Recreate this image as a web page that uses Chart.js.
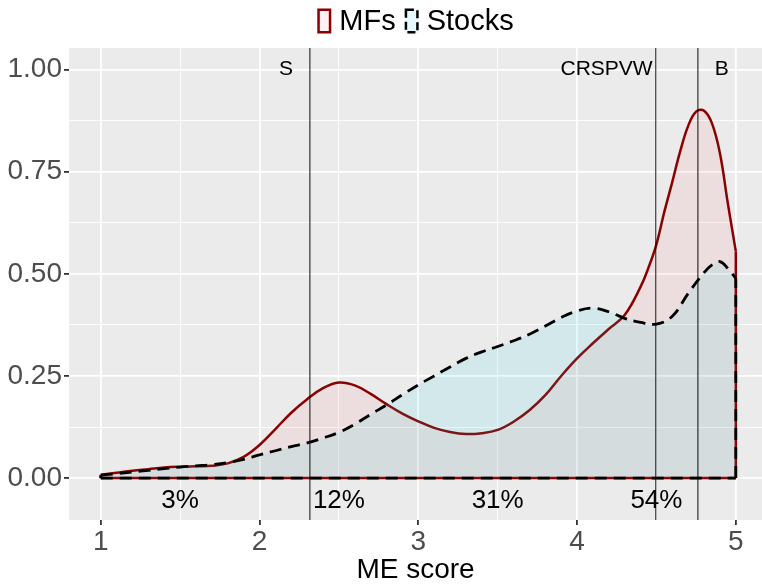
<!DOCTYPE html>
<html>
<head>
<meta charset="utf-8">
<script src="https://cdn.jsdelivr.net/npm/chart.js@4.4.0/dist/chart.umd.min.js"></script>
<style>
  html, body { margin: 0; padding: 0; background: #ffffff; overflow: hidden; }
  canvas { display: block; }
</style>
</head>
<body>
<canvas id="chart" width="762" height="587"></canvas>
<script>
// density of ME score, mutual funds
const mfX = [1.0, 1.1, 1.2, 1.3, 1.4, 1.5, 1.6, 1.7, 1.8, 1.9, 2.0, 2.1, 2.2, 2.3, 2.4, 2.5, 2.6, 2.7, 2.8, 2.9,
  3.0, 3.1, 3.2, 3.3, 3.4, 3.5, 3.6, 3.7, 3.8, 3.9, 4.0, 4.1, 4.2, 4.3, 4.4, 4.45, 4.5, 4.55, 4.6, 4.65,
  4.7, 4.75, 4.8, 4.85, 4.9, 4.95, 5.0];
const mfY = [0.008, 0.013, 0.018, 0.022, 0.026, 0.028, 0.029, 0.030, 0.036, 0.052, 0.081, 0.120, 0.160, 0.193, 0.220, 0.234, 0.227, 0.206, 0.181, 0.158,
  0.139, 0.123, 0.113, 0.108, 0.110, 0.118, 0.138, 0.166, 0.203, 0.250, 0.293, 0.330, 0.365, 0.399, 0.468, 0.515, 0.572, 0.652, 0.725, 0.800,
  0.862, 0.897, 0.899, 0.868, 0.795, 0.672, 0.555];

// density of ME score, stocks
const stX = [1.0, 1.1, 1.2, 1.3, 1.4, 1.5, 1.6, 1.7, 1.8, 1.9, 2.0, 2.1, 2.2, 2.3, 2.4, 2.5, 2.6, 2.7, 2.8, 2.9,
  3.0, 3.1, 3.2, 3.3, 3.4, 3.5, 3.6, 3.7, 3.8, 3.9, 4.0, 4.1, 4.2, 4.3, 4.4, 4.5, 4.6, 4.7, 4.8, 4.85,
  4.9, 4.95, 5.0];
const stY = [0.007, 0.011, 0.015, 0.019, 0.023, 0.027, 0.030, 0.033, 0.038, 0.046, 0.057, 0.067, 0.077, 0.086, 0.098, 0.112, 0.132, 0.156, 0.179, 0.204,
  0.228, 0.250, 0.272, 0.293, 0.309, 0.322, 0.336, 0.352, 0.372, 0.393, 0.409, 0.416, 0.407, 0.391, 0.381, 0.377, 0.396, 0.452, 0.503, 0.522,
  0.530, 0.513, 0.489];

// reference lines and their labels
const refX = [2.317, 4.496, 4.761];
const refNames = ['S', 'CRSPVW', 'B'];
const refLabelX = [2.167, 4.186, 4.911];
const refLabelY = 1.0;

// share of funds in each region
const pctLabels = ['3%', '12%', '31%', '54%'];
const pctX = [1.5, 2.5, 3.5, 4.5];
const pctY = -0.056;

const xTicks = [1, 1.5, 2, 2.5, 3, 3.5, 4, 4.5, 5];
const yTicks = [0, 0.125, 0.25, 0.375, 0.5, 0.625, 0.75, 0.875, 1.0];
const seriesNames = ['MFs', 'Stocks'];

const MF_LINE = '#8B0000';
const MF_FILL = 'rgba(255,0,0,0.055)';
const ST_LINE = '#000000';
const ST_FILL = 'rgba(0,206,222,0.1)';
const DASH = [12, 7];
const FONT = '"Liberation Sans", Arial, sans-serif';

function pts(xs, ys) {
  return xs.map((x, i) => ({ x: x, y: ys[i] }));
}
function edge(x, y) {
  return [{ x: x, y: 0 }, { x: x, y: y }];
}

const mfLast = mfX.length - 1;
const stLast = stX.length - 1;

const datasets = [
  { label: 'MFs', data: pts(mfX, mfY), borderColor: MF_LINE, backgroundColor: MF_FILL, fill: 'origin',
    borderWidth: 2.5, tension: 0.4, order: 6 },
  { label: 'mfRight', data: edge(mfX[mfLast], mfY[mfLast]), borderColor: MF_LINE, borderWidth: 2.5, tension: 0, fill: false, order: 5 },
  { label: 'mfLeft', data: edge(mfX[0], mfY[0]), borderColor: MF_LINE, borderWidth: 2.5, tension: 0, fill: false, order: 5 },
  { label: 'mfBase', data: [{ x: mfX[0], y: 0 }, { x: mfX[mfLast], y: 0 }], borderColor: MF_LINE, borderWidth: 2.5, tension: 0, fill: false, order: 5 },
  { label: 'Stocks', data: pts(stX, stY), borderColor: ST_LINE, backgroundColor: ST_FILL, fill: 'origin',
    borderWidth: 2.8, borderDash: DASH, tension: 0.4, order: 3 },
  { label: 'stRight', data: edge(stX[stLast], stY[stLast]), borderColor: ST_LINE, borderWidth: 2.8, borderDash: DASH, tension: 0, fill: false, order: 2 },
  { label: 'stLeft', data: edge(stX[0], stY[0]), borderColor: ST_LINE, borderWidth: 2.8, tension: 0, fill: false, order: 2 },
  { label: 'stBase', data: [{ x: stX[0], y: 0 }, { x: stX[stLast], y: 0 }], borderColor: ST_LINE, borderWidth: 2.8, borderDash: DASH, tension: 0, fill: false, order: 1 }
];

const panelPlugin = {
  id: 'panel',
  beforeDraw(chart) {
    const { ctx, chartArea: a } = chart;
    ctx.save();
    ctx.fillStyle = '#EBEBEB';
    ctx.fillRect(a.left, a.top, a.right - a.left, a.bottom - a.top);
    ctx.restore();
  }
};

const annotPlugin = {
  id: 'annot',
  afterDatasetsDraw(chart) {
    const { ctx, chartArea: a, scales } = chart;
    const xs = scales.x, ys = scales.y;
    ctx.save();
    const lineStyles = [['rgba(0,0,0,0.6)', 1.6], ['rgba(0,0,0,0.85)', 1.1], ['rgba(0,0,0,0.6)', 1.6]];
    refX.forEach((v, i) => {
      const px = xs.getPixelForValue(v);
      ctx.strokeStyle = lineStyles[i][0];
      ctx.lineWidth = lineStyles[i][1];
      ctx.beginPath();
      ctx.moveTo(px, a.top);
      ctx.lineTo(px, a.bottom);
      ctx.stroke();
    });
    ctx.fillStyle = '#000000';
    ctx.textAlign = 'center';
    ctx.textBaseline = 'middle';
    ctx.font = '21px ' + FONT;
    refNames.forEach((t, i) => {
      ctx.fillText(t, xs.getPixelForValue(refLabelX[i]), ys.getPixelForValue(refLabelY));
    });
    ctx.font = '26px ' + FONT;
    pctLabels.forEach((t, i) => {
      ctx.fillText(t, xs.getPixelForValue(pctX[i]), ys.getPixelForValue(pctY));
    });
    ctx.restore();
  }
};

const legendPlugin = {
  id: 'keys',
  afterDraw(chart) {
    const { ctx, chartArea: a } = chart;
    ctx.save();
    ctx.font = '29px ' + FONT;
    ctx.textBaseline = 'middle';
    ctx.textAlign = 'left';
    const boxW = 14, boxH = 25, gapBox = 8, gapItem = 9;
    const widths = seriesNames.map(n => ctx.measureText(n).width);
    let total = 0;
    widths.forEach((w, i) => { total += boxW + gapBox + w + (i < widths.length - 1 ? gapItem : 0); });
    let x = (a.left + a.right - total) / 2;
    const cy = 21;
    const styles = [[MF_FILL, MF_LINE, []], [ST_FILL, ST_LINE, [8, 4]]];
    seriesNames.forEach((n, i) => {
      ctx.fillStyle = '#ffffff';
      ctx.fillRect(x, cy - boxH / 2, boxW, boxH);
      ctx.fillStyle = styles[i][0];
      ctx.fillRect(x, cy - boxH / 2, boxW, boxH);
      ctx.strokeStyle = styles[i][1];
      ctx.lineWidth = 2.5;
      ctx.setLineDash(styles[i][2]);
      ctx.strokeRect(x + 1.25, cy - boxH / 2 + 1.25, boxW - 2.5, boxH - 2.5);
      ctx.setLineDash([]);
      x += boxW + gapBox;
      ctx.fillStyle = '#000000';
      ctx.fillText(n, x, cy + 1);
      x += widths[i] + gapItem;
    });
    ctx.restore();
  }
};

function isMajor(v, step) {
  return Math.abs(v / step - Math.round(v / step)) < 1e-6;
}

new Chart(document.getElementById('chart').getContext('2d'), {
  type: 'line',
  data: { datasets: datasets },
  options: {
    responsive: false,
    animation: false,
    devicePixelRatio: 1,
    layout: { padding: { top: 48, right: 0, bottom: 0, left: 0 } },
    elements: { point: { radius: 0, hoverRadius: 0 }, line: { borderCapStyle: 'butt' } },
    plugins: { legend: { display: false }, tooltip: { enabled: false } },
    scales: {
      x: {
        type: 'linear',
        min: 0.8,
        max: 5.165,
        afterBuildTicks(scale) { scale.ticks = xTicks.map(v => ({ value: v })); },
        afterFit(scale) { scale.height = 67; },
        border: { display: false },
        grid: {
          color: '#ffffff',
          lineWidth: c => isMajor(c.tick.value, 1) ? 1.8 : 0.9,
          tickColor: c => isMajor(c.tick.value, 1) ? '#333333' : 'rgba(0,0,0,0)',
          tickLength: 5,
          drawOnChartArea: true
        },
        ticks: {
          autoSkip: false,
          maxRotation: 0,
          padding: 0,
          color: '#4D4D4D',
          font: { family: FONT, size: 28 },
          callback: v => isMajor(v, 1) ? String(v) : ''
        },
        title: {
          display: true,
          text: 'ME score',
          color: '#000000',
          font: { family: FONT, size: 28 },
          padding: { top: 0, bottom: 0 }
        }
      },
      y: {
        type: 'linear',
        min: -0.1025,
        max: 1.0525,
        afterBuildTicks(scale) { scale.ticks = yTicks.map(v => ({ value: v })); },
        afterFit(scale) { scale.width = 69; },
        border: { display: false },
        grid: {
          color: '#ffffff',
          lineWidth: c => isMajor(c.tick.value, 0.25) ? 1.8 : 0.9,
          tickColor: c => isMajor(c.tick.value, 0.25) ? '#333333' : 'rgba(0,0,0,0)',
          tickLength: 5
        },
        ticks: {
          autoSkip: false,
          padding: 2,
          color: '#4D4D4D',
          font: { family: FONT, size: 28 },
          callback: v => isMajor(v, 0.25) ? v.toFixed(2) : ''
        }
      }
    }
  },
  plugins: [panelPlugin, annotPlugin, legendPlugin]
});
</script>
</body>
</html>
